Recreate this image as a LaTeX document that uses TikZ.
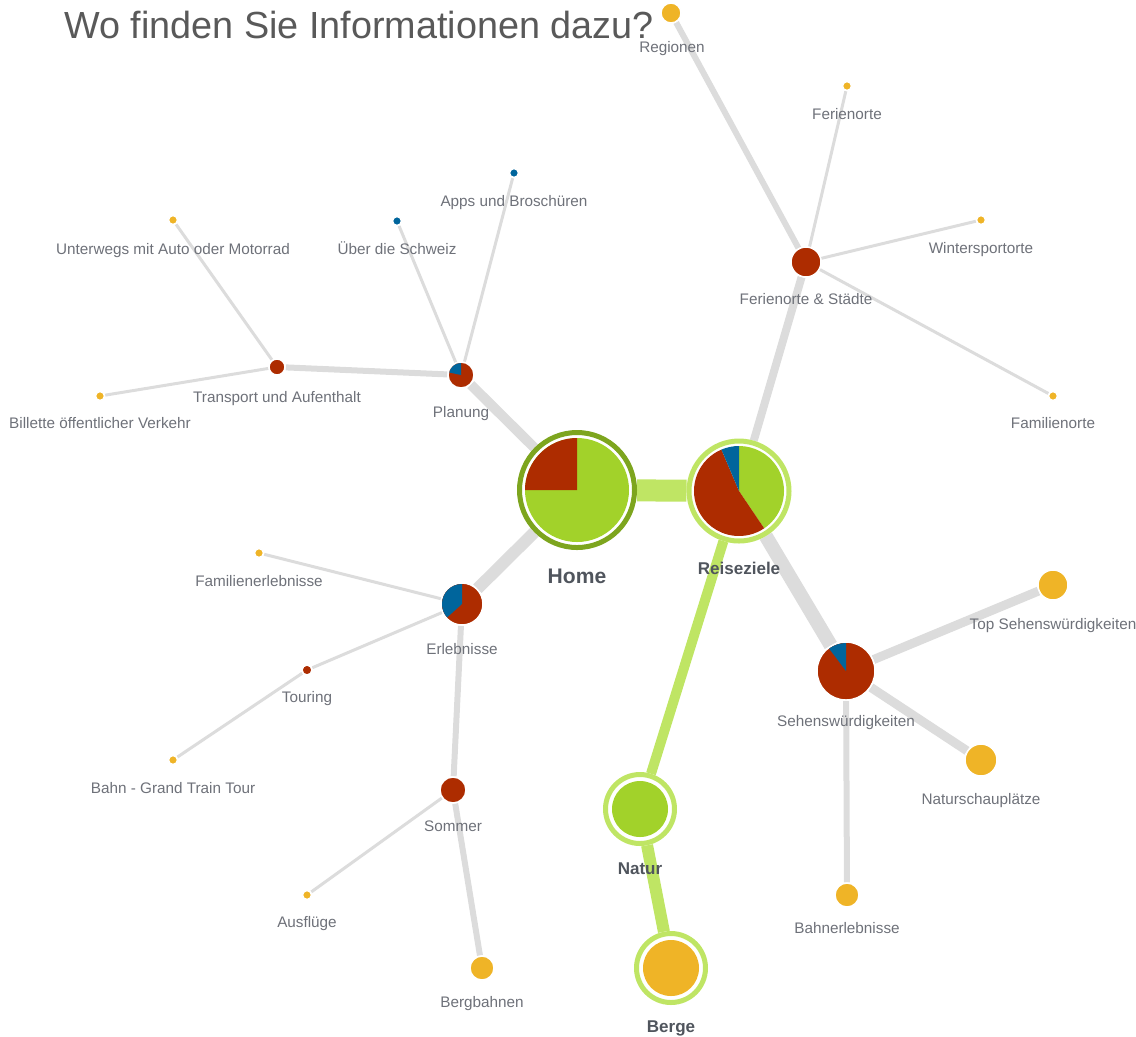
\documentclass[tikz,border=0pt]{standalone}
\usepackage{fontspec}
\setmainfont{Liberation Sans}
\usetikzlibrary{backgrounds}
\definecolor{cGreen}{HTML}{A2D22A}
\definecolor{cRed}{HTML}{AD2C00}
\definecolor{cBlue}{HTML}{00659C}
\definecolor{cOrange}{HTML}{EFB427}
\definecolor{cRing}{HTML}{7DA51E}
\definecolor{cLight}{HTML}{BFE564}
\definecolor{cEdge}{HTML}{DCDCDC}
\definecolor{cText}{HTML}{6E7179}
\definecolor{cHead}{HTML}{50555D}
\definecolor{cTitle}{HTML}{595959}
\def\px{0.02cm}
\begin{document}
\begin{tikzpicture}[
    x=\px, y=\px,
    DN/.style={circle,inner sep=0pt,draw=white,line width=1.5*\px,minimum size=2*#1*\px},
    RN/.style={circle,inner sep=0pt,fill=white,draw=cLight,line width=5*\px,minimum size=2*#1*\px},
    LL/.style={draw=cEdge,line width=#1*\px},
    GL/.style={draw=cLight,line width=#1*\px},
    TL/.style={text=cText,font=\fontsize{8.7}{10}\selectfont,anchor=base,inner sep=0pt},
    BL/.style={text=cHead,font=\bfseries\fontsize{9.7}{11}\selectfont,anchor=base,inner sep=0pt}
    ]
    \useasboundingbox (0,0) rectangle (1136,-1036);
    \node [anchor=base west,text=cTitle,font=\fontsize{21.5}{25}\selectfont,inner sep=0pt] (title) at (64,-38) {Wo finden Sie Informationen dazu?};

    % main hubs
    \node [RN=57.5,draw=cRing] (home) at (577,-490) {};
    \fill [cGreen] (home.center) circle (52);
    \fill [cRed] (home.center) -- ++(90:52) arc (90:180:52) -- cycle;
    \node [RN=50] (reise) at (739,-491) {};
    \fill [cGreen] (reise.center) -- ++(-56:45) arc (-56:90:45) -- cycle;
    \fill [cRed] (reise.center) -- ++(113:45) arc (113:304:45) -- cycle;
    \fill [cBlue] (reise.center) -- ++(90:45) arc (90:113:45) -- cycle;
    \node [RN=34.5] (natur) at (640,-809) {};
    \fill [cGreen] (natur.center) circle (28);
    \node [RN=34.5] (berge) at (671,-968) {};
    \fill [cOrange] (berge.center) circle (28);

    % inner nodes
    \node [DN=13,fill=cRed] (plan) at (461,-375) {};
    \fill [cBlue] (plan.center) -- ++(90:12) arc (90:168:12) -- cycle;
    \node [DN=21,fill=cRed] (erleb) at (462,-604) {};
    \fill [cBlue] (erleb.center) -- ++(90:20) arc (90:222:20) -- cycle;
    \node [DN=29,fill=cRed] (sehens) at (846,-671) {};
    \fill [cBlue] (sehens.center) -- ++(90:28) arc (90:127:28) -- cycle;
    \node [DN=15,fill=cRed] (fstaedte) at (806,-262) {};
    \node [DN=8,fill=cRed] (transp) at (277,-367) {};
    \node [DN=13,fill=cRed] (sommer) at (453,-790) {};
    \node [DN=5,fill=cRed] (touring) at (307,-670) {};

    % leaves
    \node [DN=10,fill=cOrange] (region) at (671,-13) {};
    \node [DN=4.5,fill=cOrange] (ferien) at (847,-86) {};
    \node [DN=4.5,fill=cOrange] (winter) at (981,-220) {};
    \node [DN=4.5,fill=cOrange] (famort) at (1053,-396) {};
    \node [DN=15,fill=cOrange] (topseh) at (1053,-585) {};
    \node [DN=16,fill=cOrange] (natplatz) at (981,-760) {};
    \node [DN=12,fill=cOrange] (bahnerl) at (847,-895) {};
    \node [DN=12,fill=cOrange] (bergb) at (482,-968) {};
    \node [DN=4.5,fill=cOrange] (ausfl) at (307,-895) {};
    \node [DN=4.5,fill=cOrange] (grand) at (173,-760) {};
    \node [DN=4.5,fill=cOrange] (famerl) at (259,-553) {};
    \node [DN=4.5,fill=cOrange] (unterw) at (173,-220) {};
    \node [DN=4.5,fill=cOrange] (billet) at (100,-396) {};
    \node [DN=4.5,fill=cBlue] (ueber) at (397,-221) {};
    \node [DN=4.5,fill=cBlue] (apps) at (514,-173) {};

    \begin{scope}[on background layer]
      \draw [GL=22] (home) -- (reise);
      \draw [GL=10] (reise) -- (natur);
      \draw [GL=12] (natur) -- (berge);
      \draw [LL=10] (home) -- (plan);
      \draw [LL=12] (home) -- (erleb);
      \draw [LL=8] (reise) -- (fstaedte);
      \draw [LL=14] (reise) -- (sehens);
      \draw [LL=6] (plan) -- (transp);
      \draw [LL=3] (plan) -- (ueber);
      \draw [LL=3] (plan) -- (apps);
      \draw [LL=3] (transp) -- (unterw);
      \draw [LL=3] (transp) -- (billet);
      \draw [LL=6] (fstaedte) -- (region);
      \draw [LL=3] (fstaedte) -- (ferien);
      \draw [LL=3] (fstaedte) -- (winter);
      \draw [LL=3] (fstaedte) -- (famort);
      \draw [LL=3] (erleb) -- (famerl);
      \draw [LL=3] (erleb) -- (touring);
      \draw [LL=6] (erleb) -- (sommer);
      \draw [LL=3] (touring) -- (grand);
      \draw [LL=3] (sommer) -- (ausfl);
      \draw [LL=6] (sommer) -- (bergb);
      \draw [LL=9] (sehens) -- (topseh);
      \draw [LL=9] (sehens) -- (natplatz);
      \draw [LL=6] (sehens) -- (bahnerl);
    \end{scope}

    % labels
    \node [TL] (l-region) at (672,-52) {Regionen};
    \node [TL] (l-ferien) at (847,-119) {Ferienorte};
    \node [TL] (l-apps) at (514,-206) {Apps und Broschüren};
    \node [TL] (l-ueber) at (397,-254) {Über die Schweiz};
    \node [TL] (l-unterw) at (173,-254) {Unterwegs mit Auto oder Motorrad};
    \node [TL] (l-winter) at (981,-253) {Wintersportorte};
    \node [TL] (l-fstaedte) at (806,-304) {Ferienorte \& Städte};
    \node [TL] (l-transp) at (277,-402) {Transport und Aufenthalt};
    \node [TL] (l-billet) at (100,-428) {Billette öffentlicher Verkehr};
    \node [TL] (l-plan) at (461,-417) {Planung};
    \node [TL] (l-famort) at (1053,-428) {Familienorte};
    \node [BL,font=\bfseries\fontsize{12}{14}\selectfont] (l-home) at (577,-583) {Home};
    \node [BL] (l-reise) at (739,-574) {Reiseziele};
    \node [TL] (l-famerl) at (259,-586) {Familienerlebnisse};
    \node [TL] (l-topseh) at (1053,-629) {Top Sehenswürdigkeiten};
    \node [TL] (l-erleb) at (462,-654) {Erlebnisse};
    \node [TL] (l-touring) at (307,-702) {Touring};
    \node [TL] (l-sehens) at (846,-726) {Sehenswürdigkeiten};
    \node [TL] (l-grand) at (173,-793) {Bahn - Grand Train Tour};
    \node [TL] (l-natplatz) at (981,-804) {Naturschauplätze};
    \node [TL] (l-sommer) at (453,-831) {Sommer};
    \node [BL] (l-natur) at (640,-874) {Natur};
    \node [TL] (l-ausfl) at (307,-927) {Ausflüge};
    \node [TL] (l-bahnerl) at (847,-933) {Bahnerlebnisse};
    \node [TL] (l-bergb) at (482,-1007) {Bergbahnen};
    \node [BL] (l-berge) at (671,-1032) {Berge};
\end{tikzpicture}
\end{document}
